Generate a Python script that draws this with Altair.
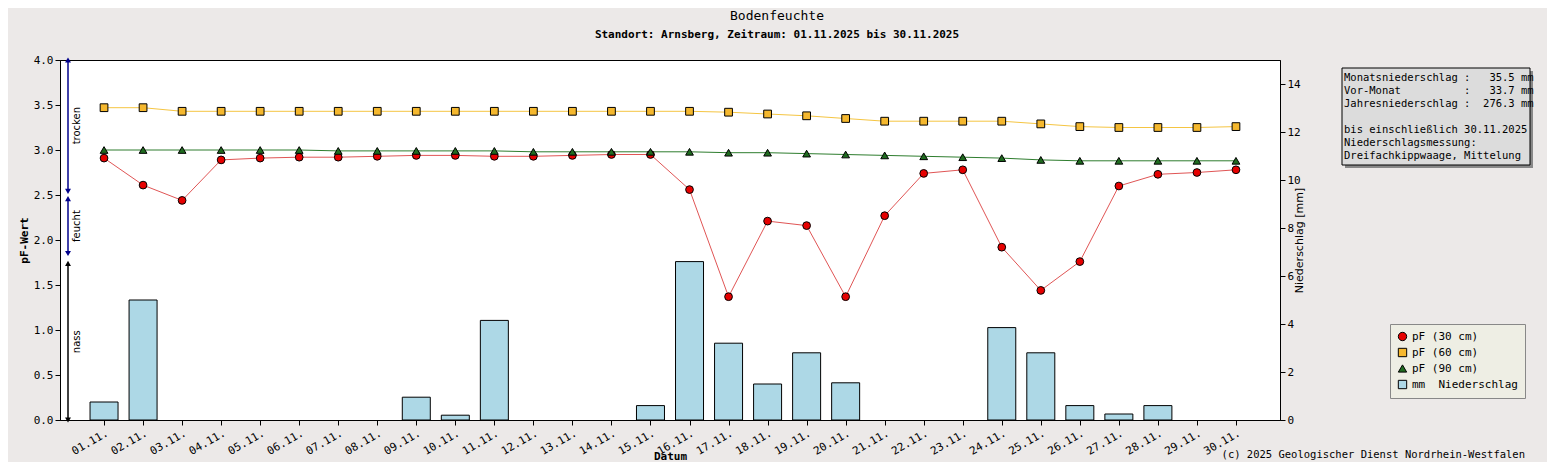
import altair as alt
import pandas as pd

days = list(range(1, 31))
pf30 = [2.91, 2.61, 2.44, 2.89, 2.91, 2.92, 2.92, 2.93, 2.94, 2.94, 2.93, 2.93, 2.94, 2.95, 2.95,
        2.56, 1.37, 2.21, 2.16, 1.37, 2.27, 2.74, 2.78, 1.92, 1.44, 1.76, 2.60, 2.73, 2.75, 2.78]
pf60 = [3.47, 3.47, 3.43, 3.43, 3.43, 3.43, 3.43, 3.43, 3.43, 3.43, 3.43, 3.43, 3.43, 3.43, 3.43,
        3.43, 3.42, 3.40, 3.38, 3.35, 3.32, 3.32, 3.32, 3.32, 3.29, 3.26, 3.25, 3.25, 3.25, 3.26]
pf90 = [3.00, 3.00, 3.00, 3.00, 3.00, 3.00, 2.99, 2.99, 2.99, 2.99, 2.99, 2.98, 2.98, 2.98, 2.98,
        2.98, 2.97, 2.97, 2.96, 2.95, 2.94, 2.93, 2.92, 2.91, 2.89, 2.88, 2.88, 2.88, 2.88, 2.88]
rain = [0.75, 5.0, 0, 0, 0, 0, 0, 0, 0.95, 0.2, 4.15, 0, 0, 0, 0.6,
        6.6, 3.2, 1.5, 2.8, 1.55, 0, 0, 0, 3.85, 2.8, 0.6, 0.25, 0.6, 0, 0]

NB = "\u00a0"
series = ["pF (30 cm)", "pF (60 cm)", "pF (90 cm)", "mm" + NB + NB + "Niederschlag"]
colors = ["#e60000", "#f5b82e", "#1f6b1f", "#add8e6"]
line_colors = ["#e05555", "#f5c542", "#2e7d2e"]
shapes = ["circle", "square", "triangle-up", "square"]

zone_names = ["trocken", "feucht", "nass"]
zone_lo = [2.54, 1.85, 0.0]
zone_hi = [4.0, 2.46, 1.74]
zone_col = ["#00008b", "#00008b", "#000000"]

info_lines = ["Monatsniederschlag :   35.5 mm", "Vor-Monat          :   33.7 mm",
              "Jahresniederschlag :  276.3 mm", "", "bis einschließlich 30.11.2025",
              "Niederschlagsmessung:", "  Dreifachkippwaage, Mittelung"]

FONT = "DejaVu Sans Mono"

pf = pd.concat([
    pd.DataFrame({"day": days, "v": pf30, "s": series[0]}),
    pd.DataFrame({"day": days, "v": pf60, "s": series[1]}),
    pd.DataFrame({"day": days, "v": pf90, "s": series[2]}),
])
rdf = pd.DataFrame({"day": days, "mm": rain, "s": series[3]})
rdf = rdf[rdf.mm > 0]
zdf = pd.DataFrame({"name": zone_names, "lo": zone_lo, "hi": zone_hi, "c": zone_col})
zdf["mid"] = (zdf.lo + zdf.hi) / 2
idf = pd.DataFrame({"t": [s.replace(" ", NB) for s in info_lines], "i": list(range(len(info_lines)))})

xs = alt.X("day:Q", scale=alt.Scale(domain=[0, 31], nice=False),
           axis=alt.Axis(values=days, title="Datum", labelAngle=-30, labelAlign="right",
                         labelBaseline="top", grid=False, titleFont=FONT, titleFontSize=11,
                         labelFont=FONT, labelFontSize=11, labelColor="black", titleColor="black",
                         labelOverlap=False, labelPadding=2,
                         labelExpr="(datum.value<10?'0':'')+datum.value+'.11.'",
                         domainColor="black", tickColor="black", titlePadding=-6))
ycol = alt.Color("s:N", scale=alt.Scale(domain=series, range=colors),
                 legend=alt.Legend(title=None, orient="none", legendX=1330, legendY=264,
                                   fillColor="#eeeee4", strokeColor="#888", padding=7,
                                   labelFont=FONT, labelFontSize=11, symbolStrokeColor="black",
                                   symbolStrokeWidth=1, symbolSize=70, rowPadding=3))
yshape = alt.Shape("s:N", scale=alt.Scale(domain=series, range=shapes), legend=None)

ypf = alt.Y("v:Q", scale=alt.Scale(domain=[0, 4], nice=False),
            axis=alt.Axis(orient="left", values=[0, 0.5, 1, 1.5, 2, 2.5, 3, 3.5, 4], format=".1f",
                          title="pF-Wert", titleFont=FONT, titleFontSize=11, labelFont=FONT,
                          labelFontSize=11, labelColor="black", titleColor="black",
                          gridColor="#cccccc", domainColor="black", tickColor="black"))

bars = alt.Chart(rdf).mark_bar(stroke="black", strokeWidth=1, width=28).encode(
    x=xs,
    y=alt.Y("mm:Q", scale=alt.Scale(domain=[0, 15], nice=False),
            axis=alt.Axis(orient="right", values=[0, 2, 4, 6, 8, 10, 12, 14], grid=False,
                          title="Niederschlag [mm]", titleAngle=270, labelFont=FONT, labelFontSize=11,
                          titleFont="DejaVu Sans", titleFontWeight="normal", titleFontSize=11,
                          labelColor="black", titleColor="black", domainColor="black",
                          tickColor="black")),
    color=ycol,
)

lines = alt.Chart(pf).mark_line(strokeWidth=1).encode(
    x=xs, y=ypf,
    stroke=alt.Stroke("s:N", scale=alt.Scale(domain=series[:3], range=line_colors), legend=None),
    detail="s:N")
pts = alt.Chart(pf).mark_point(filled=True, stroke="black", strokeWidth=1, size=60, opacity=1).encode(
    x=xs, y=ypf, color=ycol, shape=yshape)

zr = alt.Chart(zdf).mark_rule(strokeWidth=1.5).encode(
    x=alt.value(8), y=alt.Y("lo:Q", scale=alt.Scale(domain=[0, 4])), y2="hi:Q",
    color=alt.Color("c:N", scale=None))
zup = alt.Chart(zdf).mark_point(shape="triangle-up", filled=True, size=35, opacity=1).encode(
    x=alt.value(8), y=alt.Y("hi:Q", scale=alt.Scale(domain=[0, 4])),
    color=alt.Color("c:N", scale=None))
zdn = alt.Chart(zdf).mark_point(shape="triangle-down", filled=True, size=35, opacity=1).encode(
    x=alt.value(8), y=alt.Y("lo:Q", scale=alt.Scale(domain=[0, 4])),
    color=alt.Color("c:N", scale=None))
zt = alt.Chart(zdf).mark_text(angle=270, font="DejaVu Sans", fontSize=10, baseline="top",
                              align="center").encode(
    x=alt.value(12), y=alt.Y("mid:Q", scale=alt.Scale(domain=[0, 4])), text="name:N")

one = pd.DataFrame({"a": [0]})
shadow = alt.Chart(one).mark_rect(fill="#888888").encode(
    x=alt.value(1285), x2=alt.value(1473), y=alt.value(11), y2=alt.value(108))
box = alt.Chart(one).mark_rect(fill="#dcdcdc", stroke="black", strokeWidth=1).encode(
    x=alt.value(1282), x2=alt.value(1470), y=alt.value(8), y2=alt.value(105))
info = alt.Chart(idf).mark_text(font=FONT, fontSize=10.5, align="left", baseline="top").encode(
    x=alt.value(1284),
    y=alt.Y("i:Q", scale=alt.Scale(domain=[0, 7], range=[13, 104]), axis=None),
    text="t:N")

title = alt.Chart(one).mark_text(font=FONT, fontSize=13, baseline="middle", text="Bodenfeuchte").encode(
    x=alt.value(717), y=alt.value(-44))
sub = alt.Chart(one).mark_text(font=FONT, fontSize=11, fontWeight="bold", baseline="middle",
                               text="Standort: Arnsberg, Zeitraum: 01.11.2025 bis 30.11.2025").encode(
    x=alt.value(717), y=alt.value(-25))
foot = alt.Chart(one).mark_text(font=FONT, fontSize=10.5, align="right",
                                text="(c) 2025 Geologischer Dienst Nordrhein-Westfalen").encode(
    x=alt.value(1465), y=alt.value(35 + 360 - 0))

left = alt.layer(lines, pts, zr, zup, zdn, zt)
deco = alt.layer(shadow, box, info, title, sub, foot)

chart = alt.layer(bars, left, deco).resolve_scale(y="independent", stroke="independent").properties(
    width=1220, height=360,
    autosize=alt.AutoSizeParams(type="none"),
    padding={"left": 52, "top": 52, "right": 267, "bottom": 42},
    background="#ece9e8",
).configure_view(fill="white", stroke="black", strokeWidth=1)

chart.save("out.html", embed_options={"renderer": "svg", "actions": False})
